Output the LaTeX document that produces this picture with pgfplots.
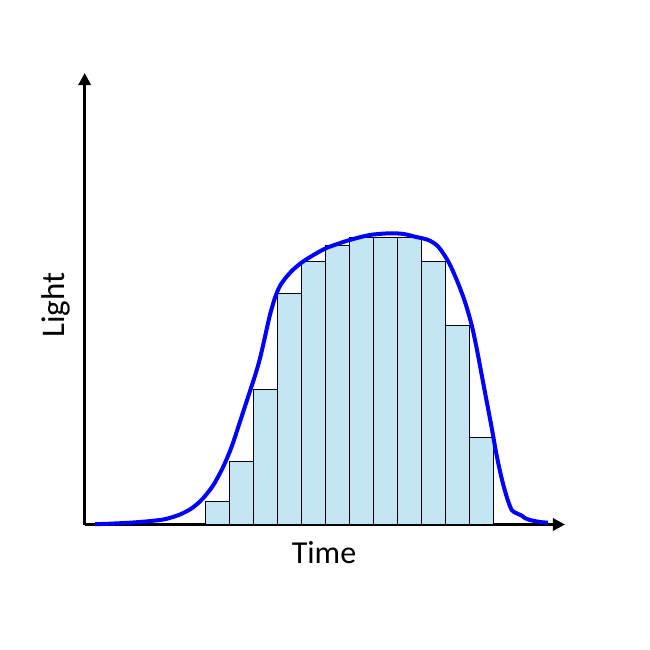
\documentclass[border=0pt]{standalone}
\usepackage{pgfplots}
\pgfplotsset{compat=1.18}
\usepackage{fontspec}
\setmainfont{Carlito}
\usetikzlibrary{arrows.meta}
\definecolor{barfill}{RGB}{195,229,244}
\begin{document}
\begin{tikzpicture}
\useasboundingbox (-42.75pt,-62.75pt) rectangle (282.25pt,262.25pt);
\begin{axis}[
  at={(0,0)}, anchor=origin,
  scale only axis, width=240.17pt, height=225.75pt,
  xmin=-0.035, xmax=19.98, ymin=0, ymax=45.15,
  axis x line=bottom, axis y line=left,
  axis line style={line width=1.6pt},
  every outer x axis line/.append style={-{Triangle[length=6pt,width=6pt]}},
  every outer y axis line/.append style={-{Triangle[length=6pt,width=6pt]}},
  xtick=\empty, ytick=\empty,
  clip=false,
  font=\fontsize{16pt}{19pt}\selectfont,
]
\addplot[ybar interval, fill=barfill, draw=black, line width=0.5pt] coordinates {
(5,2.3) (6,6.32) (7,13.52) (8,23.12) (9,26.32) (10,27.92) (11,28.72) (12,28.72) (13,28.72) (14,26.32) (15,19.92) (16,8.72) (17,8.72)
};
\addplot[blue, line width=2pt, smooth, tension=0.5] coordinates {
(0.4,0.03) (1.02,0.08) (1.85,0.18) (2.6,0.32) (3.24,0.5) (3.6,0.72) (3.94,1.0) (4.35,1.5) (4.63,2.0) (4.91,2.65) (5.33,3.95) (5.74,5.78) (6.09,7.78) (6.44,10.3) (6.78,12.8) (7.06,14.85) (7.27,16.6) (7.48,18.78) (7.69,21.0) (7.9,22.7) (8.1,23.85) (8.38,24.78) (8.66,25.5) (9.01,26.2) (9.5,26.95) (10.01,27.62) (10.5,28.05) (11.01,28.45) (11.85,28.95) (12.69,29.12) (13.25,29.05) (13.73,28.78) (14.28,28.45) (14.7,27.78) (15.12,26.28) (15.47,24.45) (15.81,22.28) (16.09,19.95) (16.3,17.62) (16.51,14.95) (16.72,12.28) (16.93,9.62) (17.13,6.95) (17.34,4.62) (17.55,2.78) (17.76,1.45) (17.97,1.12) (18.18,0.88) (18.31,0.65) (18.52,0.45) (18.94,0.25) (19.27,0.18)
};
\node[anchor=base, font=\fontsize{16pt}{19pt}\selectfont] at (axis cs:9.94,-3.88) {Time};
\node[anchor=base, rotate=90, font=\fontsize{16.5pt}{19pt}\selectfont] at (axis cs:-0.883,21.95) {Light};
\end{axis}
\end{tikzpicture}
\end{document}
